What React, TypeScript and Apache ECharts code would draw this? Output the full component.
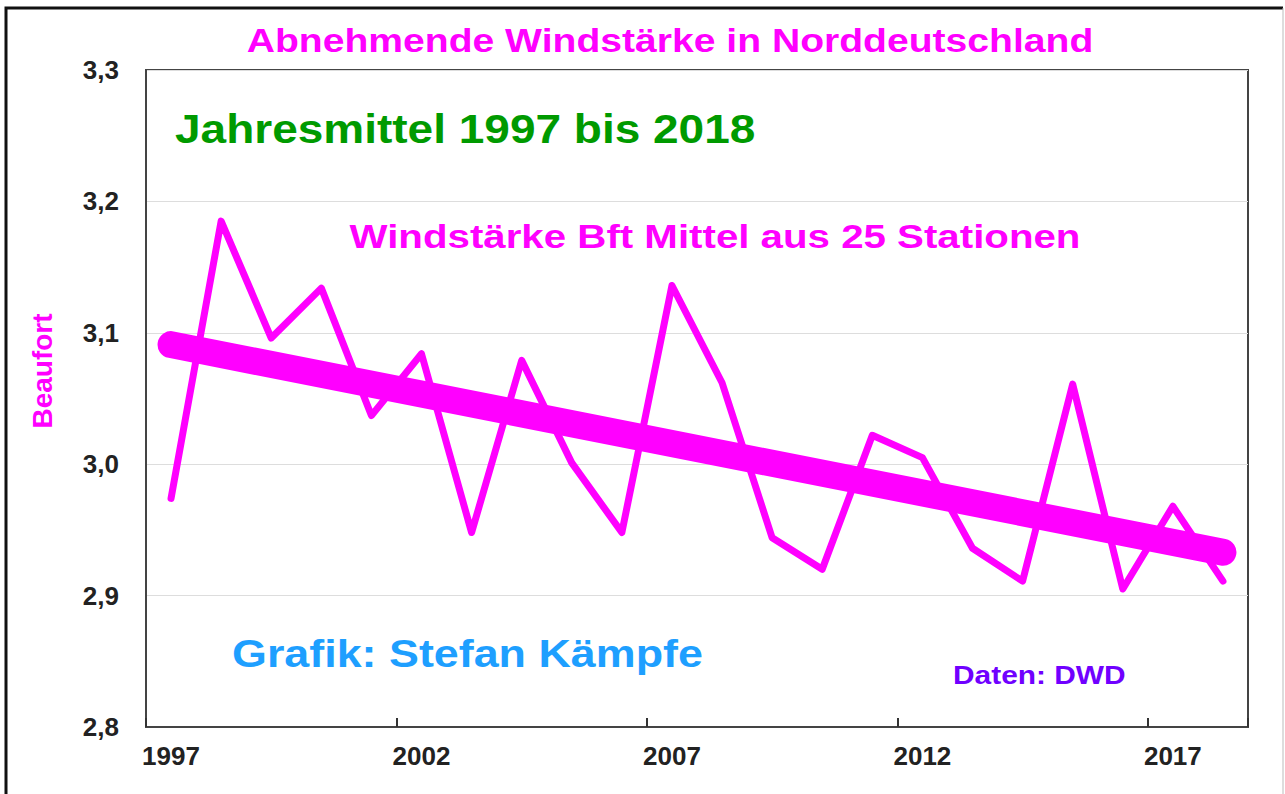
import React, { useEffect, useRef } from "react";
import * as echarts from "echarts";

const years: string[] = [
  "1997", "1998", "1999", "2000", "2001", "2002", "2003", "2004", "2005", "2006", "2007",
  "2008", "2009", "2010", "2011", "2012", "2013", "2014", "2015", "2016", "2017", "2018",
];
const windBft: number[] = [
  2.974, 3.185, 3.096, 3.134, 3.037, 3.084, 2.948, 3.079, 3.001, 2.948, 3.136,
  3.062, 2.944, 2.92, 3.022, 3.005, 2.936, 2.911, 3.061, 2.905, 2.968, 2.911,
];
const trendStart: [string, number] = ["1997", 3.091];
const trendEnd: [string, number] = ["2018", 2.933];

const titleText = "Abnehmende Windstärke in Norddeutschland";
const periodText = "Jahresmittel 1997 bis 2018";
const seriesText = "Windstärke Bft Mittel aus 25 Stationen";
const authorText = "Grafik: Stefan Kämpfe";
const sourceText = "Daten: DWD";
const yName = "Beaufort";

const FONT = "'Liberation Sans', Arial, sans-serif";
const MAGENTA = "#ff00ff";

export default function App() {
  const ref = useRef<HTMLDivElement>(null);
  useEffect(() => {
    document.body.style.margin = "0";
    const chart = echarts.init(ref.current!, null, { renderer: "svg" });
    const txt = (
      text: string,
      x: number,
      y: number,
      size: number,
      fill: string,
      align: string,
      sx: number,
      weight = "bold"
    ) => ({
      type: "text",
      x,
      y,
      scaleX: sx,
      z: 20,
      style: {
        text,
        fill,
        font: `${weight} ${size}px ${FONT}`,
        textAlign: align,
        textVerticalAlign: "middle",
      },
    });
    chart.setOption({
      animation: false,
      backgroundColor: "#ffffff",
      grid: {
        left: 146,
        right: 37,
        top: 70,
        bottom: 67,
        show: true,
        borderColor: "#444",
        borderWidth: 2,
        backgroundColor: "#ffffff",
      },
      xAxis: {
        type: "category",
        data: years,
        boundaryGap: true,
        axisLine: { show: true, lineStyle: { color: "#444", width: 2 } },
        axisTick: {
          show: true,
          interval: 4,
          inside: true,
          length: 9,
          lineStyle: { color: "#333", width: 2 },
        },
        axisLabel: {
          interval: 4,
          fontSize: 26,
          fontWeight: "bold",
          fontFamily: FONT,
          color: "#222",
          margin: 16,
        },
        splitLine: { show: false },
      },
      yAxis: {
        type: "value",
        min: 2.8,
        max: 3.3,
        interval: 0.1,
        axisLine: { show: true, lineStyle: { color: "#444", width: 2 } },
        axisTick: { show: false },
        axisLabel: {
          fontSize: 26,
          fontWeight: "bold",
          fontFamily: FONT,
          color: "#222",
          margin: 27,
          formatter: (v: number) => v.toFixed(1).replace(".", ","),
        },
        splitLine: { show: true, lineStyle: { color: "#dddddd", width: 1 } },
      },
      series: [
        {
          type: "line",
          data: windBft,
          symbol: "none",
          lineStyle: { color: MAGENTA, width: 7, cap: "round", join: "round" },
          z: 3,
        },
        {
          type: "line",
          data: [trendStart, trendEnd],
          symbol: "none",
          lineStyle: { color: MAGENTA, width: 27, cap: "round" },
          z: 4,
        },
      ],
      graphic: [
        {
          type: "polyline",
          z: 30,
          shape: { points: [[6, 800], [6, 8], [1283, 8]] },
          style: { stroke: "#111", lineWidth: 3, fill: "none" },
        },
        {
          type: "line",
          z: 30,
          shape: { x1: 1283, y1: 8, x2: 1283, y2: 800 },
          style: { stroke: "#bbbbbb", lineWidth: 1 },
        },
        txt(titleText, 670, 40, 34, MAGENTA, "center", 1.15),
        txt(periodText, 175, 129, 40, "#009a00", "left", 1.15),
        txt(seriesText, 715, 237, 33, MAGENTA, "center", 1.22),
        txt(authorText, 232, 654, 39, "#1e9fff", "left", 1.15),
        txt(sourceText, 953, 675, 26, "#7000ff", "left", 1.15),
        {
          type: "text",
          x: 42,
          y: 371,
          rotation: Math.PI / 2,
          z: 20,
          style: {
            text: yName,
            fill: MAGENTA,
            font: `bold 28px ${FONT}`,
            textAlign: "center",
            textVerticalAlign: "middle",
          },
        },
      ],
    });
    return () => chart.dispose();
  }, []);
  return <div ref={ref} style={{ width: 1285, height: 794 }} />;
}
